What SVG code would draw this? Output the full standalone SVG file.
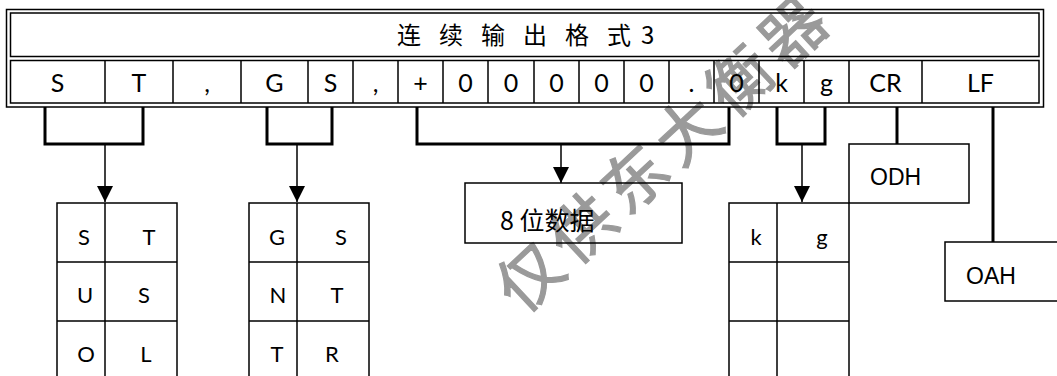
<svg xmlns="http://www.w3.org/2000/svg" width="1057" height="376" viewBox="0 0 1057 376">
<defs>
<style>
.ln{stroke:#000;stroke-width:1.5;fill:none}
.br{stroke:#000;stroke-width:3;fill:none}
.st{stroke:#000;stroke-width:1.5;fill:none}
.cell{font-family:Lato,"Liberation Sans",sans-serif;font-size:25px;fill:#000;text-anchor:middle}
.tb{font-family:Lato,"Liberation Sans",sans-serif;font-size:22px;fill:#000;text-anchor:middle}
.ar{font-family:"Liberation Sans",Arial,sans-serif;font-size:23px;fill:#000}
.cjk{font-family:"Noto Sans CJK SC","Noto Sans",sans-serif;fill:#000}
.wm{font-family:"Noto Sans CJK SC",sans-serif;font-size:64px;fill:#9a9a9a;stroke:#9a9a9a;stroke-width:1.2}
</style>
<marker id="ah" viewBox="0 0 16 16" refX="16" refY="8" markerWidth="16" markerHeight="16" markerUnits="userSpaceOnUse" orient="auto">
<path d="M0,0 L16,8 L0,16 Z" fill="#000"/>
</marker>
</defs>
<rect width="1057" height="376" fill="#fff"/>
<g id="watermark">
<text class="wm" transform="translate(522,316) rotate(-43)" letter-spacing="8">仅供东大衡器</text>
</g>
<g id="frame">
<rect class="ln" x="6.5" y="9.5" width="1037" height="97.5"/>
<rect class="ln" x="10.5" y="13" width="1028.5" height="43.5"/>
<rect class="ln" x="10.5" y="60.5" width="1028.5" height="42.5"/>
<text class="cjk" font-size="24" y="44" x="397 421 439 463 481 505 523 547 565 589 607 641">连 续 输 出 格 式3</text>
</g>
<g id="row">
<path class="ln" d="M105,60.5V103 M173,60.5V103 M241,60.5V103 M308,60.5V103 M353,60.5V103 M398,60.5V103 M443,60.5V103 M488,60.5V103 M534,60.5V103 M579,60.5V103 M624,60.5V103 M669,60.5V103 M714,60.5V103 M759,60.5V103 M804,60.5V103 M849,60.5V103 M922,60.5V103"/>
<text class="cell" x="57.5" y="92">S</text>
<text class="cell" x="139" y="92">T</text>
<text class="cell" x="207" y="92">,</text>
<text class="cell" x="274.5" y="92">G</text>
<text class="cell" x="330.5" y="92">S</text>
<text class="cell" x="375.5" y="92">,</text>
<text class="cell" x="420.5" y="92">+</text>
<text class="cell" x="465.5" y="92">0</text>
<text class="cell" x="511" y="92">0</text>
<text class="cell" x="556.5" y="92">0</text>
<text class="cell" x="601.5" y="92">0</text>
<text class="cell" x="646.5" y="92">0</text>
<text class="cell" x="691.5" y="92">.</text>
<text class="cell" x="736.5" y="92">0</text>
<text class="cell" x="781.5" y="92">k</text>
<text class="cell" x="826.5" y="92">g</text>
<text class="cell" x="885.5" y="92">CR</text>
<text class="cell" x="980.5" y="92">LF</text>
</g>
<g id="connectors">
<path class="br" d="M45,107V144H143V107"/>
<path class="br" d="M267,107V144H332V107"/>
<path class="br" d="M417,107V144H729V107"/>
<path class="br" d="M777,107V144H825V107"/>
<path class="br" d="M897,107V144"/>
<path class="br" d="M993,107V242"/>
<path class="st" d="M105,144V202" marker-end="url(#ah)"/>
<path class="st" d="M297,144V202" marker-end="url(#ah)"/>
<path class="st" d="M561,144V183" marker-end="url(#ah)"/>
<path class="st" d="M802,144V202" marker-end="url(#ah)"/>
</g>
<g id="table-st">
<rect class="ln" x="57" y="203" width="120" height="180" stroke-width="2"/>
<path class="ln" d="M105,203V383" stroke-width="3"/>
<path class="ln" d="M57,262H177 M57,321H177" stroke-width="2"/>
<text class="tb" x="84" y="245">S</text>
<text class="tb" x="149" y="245">T</text>
<text class="tb" x="85" y="303">U</text>
<text class="tb" x="144" y="303">S</text>
<text class="tb" x="86" y="362">O</text>
<text class="tb" x="146" y="362">L</text>
</g>
<g id="table-gs">
<rect class="ln" x="249" y="203" width="120" height="180"/>
<path class="ln" d="M297,203V383 M249,262H369 M249,321H369"/>
<text class="tb" x="277" y="245">G</text>
<text class="tb" x="341" y="245">S</text>
<text class="tb" x="278" y="303">N</text>
<text class="tb" x="337" y="303">T</text>
<text class="tb" x="277" y="362">T</text>
<text class="tb" x="332" y="362">R</text>
</g>
<g id="data8">
<rect class="ln" x="465" y="183" width="217" height="60"/>
<text class="cjk" font-size="25" x="500" y="230">8 位数据</text>
</g>
<g id="table-kg">
<rect class="ln" x="729" y="203" width="120" height="180"/>
<path class="ln" d="M777,203V383 M729,262H849 M729,321H849"/>
<text class="tb" x="756" y="245">k</text>
<text class="tb" x="822" y="245">g</text>
</g>
<g id="odh">
<rect class="ln" x="849" y="144" width="120" height="59"/>
<text class="ar" x="870" y="185">ODH</text>
</g>
<g id="oah">
<rect class="ln" x="945" y="242" width="130" height="59"/>
<text class="ar" x="966" y="284">OAH</text>
</g>
</svg>
